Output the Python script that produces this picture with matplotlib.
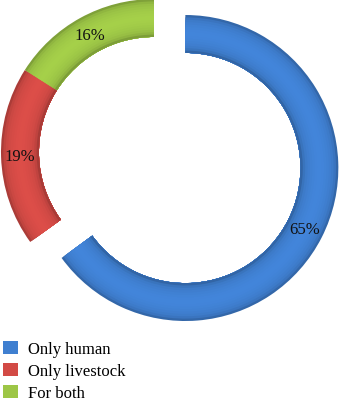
import matplotlib
matplotlib.use("Agg")
import matplotlib.pyplot as plt
import numpy as np
from matplotlib.colors import to_rgb
from matplotlib.patches import Patch

categories = ["Only human", "Only livestock", "For both"]
values = [65, 19, 16]
colors = ["#3F7FD0", "#D24A45", "#9DC646"]
explode = [0.23, 0, 0]

plt.rcParams['font.family'] = ['Liberation Serif', 'DejaVu Serif']

fig = plt.figure(figsize=(3.41, 4.02), dpi=100)
ax = fig.add_axes([0, 0, 1, 1])

R = 1.0
W = 0.248
inner = R - W

# bevel shading: nested rings drawn outer -> inner, each covering to the inner edge
nb = 16
for i in range(nb):
    tm = (i + 0.5) / nb
    f = (1.0 - 0.28 * np.exp(-tm / 0.08) - 0.30 * np.exp(-(1 - tm) / 0.08)
         + 0.05 * np.exp(-((tm - 0.5) / 0.25) ** 2))
    cols = [tuple(np.clip(np.array(to_rgb(c)) * f, 0, 1)) for c in colors]
    r_out = R - i / nb * W
    ax.pie(values, radius=r_out, colors=cols, startangle=90, counterclock=False,
           explode=explode, wedgeprops=dict(width=r_out - inner, linewidth=0))

wedges, texts, autotexts = ax.pie(values, radius=R, colors=colors, startangle=90,
                                  counterclock=False, explode=explode,
                                  autopct='%d%%', pctdistance=0.875,
                                  wedgeprops=dict(width=W, linewidth=0, alpha=0.0),
                                  textprops=dict(fontsize=12, color='#111111'))

ax.set_xlim(-1.0065, 1.2222)
ax.set_ylim(-1.627, 1.0)
ax.set_aspect('equal')
ax.axis('off')

handles = [Patch(facecolor=c, edgecolor='none') for c in colors]
fig.legend(handles, categories, loc='upper left', bbox_to_anchor=(0.0, 0.158),
           frameon=False, fontsize=12, handlelength=0.85, handleheight=0.85,
           handletextpad=0.6, labelspacing=0.33, borderpad=0.2, borderaxespad=0)

fig.savefig("out.png", dpi=100)
